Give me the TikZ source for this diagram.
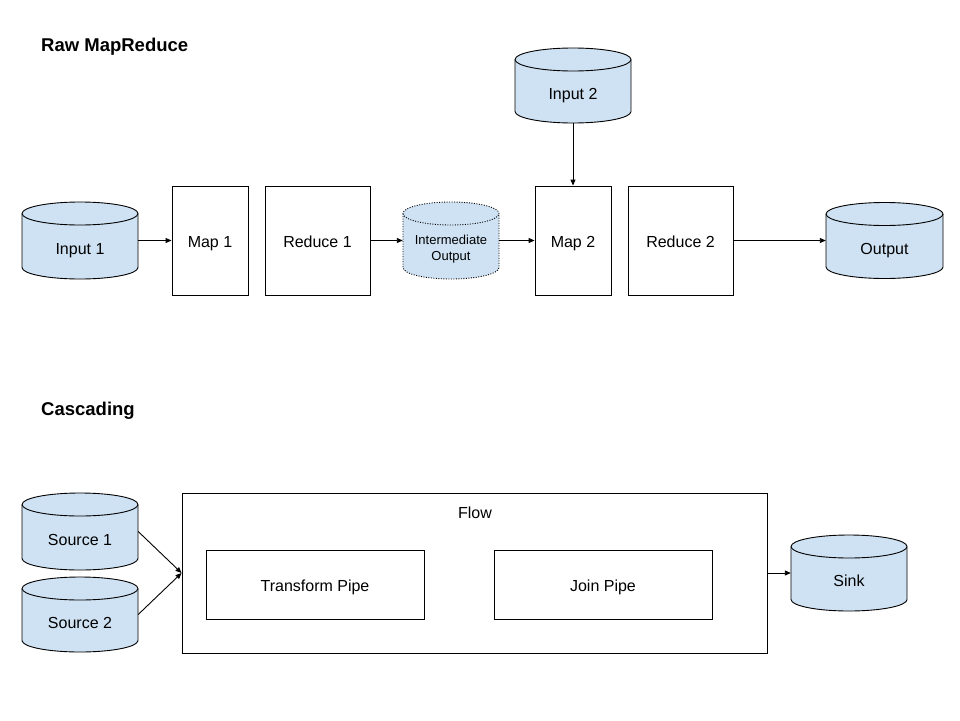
\documentclass[tikz,border=0pt]{standalone}
\usepackage{fontspec}
\setmainfont{Liberation Sans}
\usetikzlibrary{arrows.meta}
\definecolor{cylfill}{HTML}{CFE2F3}
\newcommand\mycyl[7]{%
  \pgfmathsetmacro\cylrx{#5/2}%
  \pgfmathsetmacro\cylry{11.5}%
  \pgfmathsetmacro\cyltop{-(#4)+(#6)/2-\cylry}%
  \pgfmathsetmacro\cylbot{-(#4)-(#6)/2+\cylry}%
  \pgfmathsetmacro\cylL{#3-\cylrx}%
  \pgfmathsetmacro\cylR{#3+\cylrx}%
  \node[inner sep=0pt, minimum width=#5pt, minimum height=#6pt] (#2) at (#3,-#4) {};
  \path[fill=cylfill, draw=black, line width=0.9pt, #1] (\cylL,\cyltop) -- (\cylL,\cylbot)
     arc[start angle=180, end angle=360, x radius=\cylrx, y radius=\cylry]
     -- (\cylR,\cyltop)
     arc[start angle=0, end angle=180, x radius=\cylrx, y radius=\cylry] -- cycle;
  \draw[line width=0.9pt, #1] (\cylL,\cyltop) arc[start angle=180, end angle=360, x radius=\cylrx, y radius=\cylry];
  \node[anchor=base, inner sep=0pt, font=\fontsize{16}{19}\selectfont] (#2-text) at (#3,-#4-13.5) {#7};
}
\tikzset{
  box/.style={draw=black, line width=0.9pt, inner sep=0pt, text height=14pt, text depth=0pt, font=\fontsize{16}{19}\selectfont},
  arr/.style={-{Triangle[length=6pt,width=5pt]}, line width=0.9pt},
  heading/.style={font=\fontsize{18.5}{22}\selectfont\bfseries, anchor=base west, inner sep=0pt},
  dotline/.style={dash pattern=on 1pt off 1.5pt},
}
\begin{document}
\begin{tikzpicture}[x=1pt,y=1pt]
\useasboundingbox[fill=white] (0,0) rectangle (960,-720);

\node[heading] (h1) at (41,-51) {Raw MapReduce};
\node[heading] (h2) at (41,-415) {Cascading};

% top row
\mycyl{}{in1}{80}{240.5}{116}{77}{Input 1}
\node[box, minimum width=76pt, minimum height=109pt] (map1) at (210,-240.5) {Map 1};
\node[box, minimum width=105pt, minimum height=109pt] (red1) at (317.5,-240.5) {Reduce 1};
\mycyl{dotline}{inter}{451}{240.5}{96}{77}{}
\node[align=center, font=\fontsize{13}{16}\selectfont] (intertext) at (451,-249) {Intermediate\\Output};
\node[box, minimum width=76pt, minimum height=109pt] (map2) at (573,-240.5) {Map 2};
\node[box, minimum width=105pt, minimum height=109pt] (red2) at (680.5,-240.5) {Reduce 2};
\mycyl{}{out}{884.5}{240.5}{117}{76}{Output}
\mycyl{}{in2}{573}{85.5}{116}{75}{Input 2}

\draw[arr] (in1.east) -- (map1.west);
\draw[arr] (red1.east) -- (inter.west);
\draw[arr] (inter.east) -- (map2.west);
\draw[arr] (red2.east) -- (out.west);
\draw[arr] (in2.south) -- (map2.north);

% bottom
\mycyl{}{src1}{80}{531.5}{116}{77}{Source 1}
\mycyl{}{src2}{80}{614.5}{116}{75}{Source 2}
\node[draw=black, line width=0.9pt, minimum width=585pt, minimum height=160pt, inner sep=0pt] (flow) at (474.5,-573) {};
\node[anchor=base, inner sep=0pt, font=\fontsize{16}{19}\selectfont] (flowlabel) at (475,-518) {Flow};
\node[box, minimum width=218pt, minimum height=69pt] (tp) at (315,-584.5) {Transform Pipe};
\node[box, minimum width=218pt, minimum height=69pt] (jp) at (603,-584.5) {Join Pipe};
\mycyl{}{sink}{849}{573}{116}{76}{Sink}

\draw[arr] (src1.east) -- (flow.west);
\draw[arr] (src2.east) -- (flow.west);
\draw[arr] (flow.east) -- (sink.west);
\end{tikzpicture}
\end{document}
